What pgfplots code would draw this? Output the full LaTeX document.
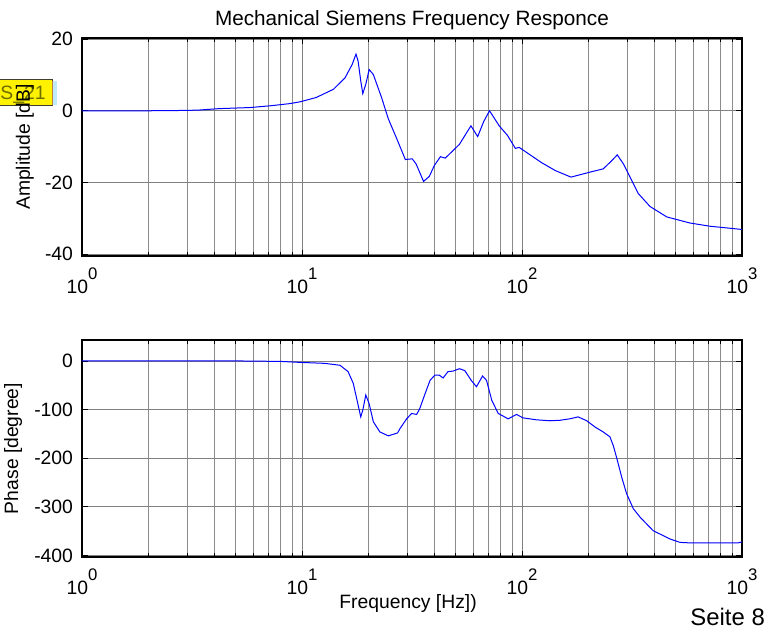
\documentclass[border=0pt]{standalone}
\usepackage{pgfplots}
\pgfplotsset{compat=1.18}
\usepackage{fontspec}
\setmainfont{Liberation Sans}
\newcommand\tp[1]{10\raisebox{0.74em}{\fontsize{8.4}{9}\selectfont #1}}
\pgfplotsset{bode/.style={
  scale only axis, width=330bp,
  xmin=1, xmax=1000,
  xtick={1,10,100,1000}, xticklabels={\tp{0},\tp{1},\tp{2},\tp{3}},
  grid=both,
  major grid style={black!50, line width=0.4bp},
  minor grid style={black!45, line width=0.4bp},
  tick align=inside, tickpos=both,
  major tick length=3bp, minor tick length=2bp,
  every tick/.style={black, line width=0.4bp},
  axis line style={line width=0.8bp},
  tick label style={font=\fontsize{9.7}{11}\selectfont},
  yticklabel style={xshift=-1bp},
  xticklabel style={yshift=-2.3bp},
  label style={font=\fontsize{9.7}{11}\selectfont},
  every axis title shift=0pt,
}}
\begin{document}
\begin{tikzpicture}
\path[use as bounding box] (0bp,0bp) rectangle (385.5bp,313.5bp);
% yellow data-tip box at top left
\draw[fill=yellow, draw=black!70!olive, line width=0.5bp] (-1bp,260.5bp) rectangle (26bp,273.5bp);
\fill[cyan!25] (26.3bp,261.2bp) rectangle (28.6bp,272.8bp);
\draw[brown, line width=0.5bp] (26.4bp,261bp) -- (26.4bp,273bp);
\node[anchor=base west, inner sep=0pt, text={rgb,255:red,110;green,110;blue,0}, font=\fontsize{9.7}{11}\selectfont] at (0bp,263.5bp) {S\_21};

\begin{semilogxaxis}[bode, at={(41bp,185.5bp)}, anchor=south west, height=109bp,
  ymin=-40.5, ymax=20.3, ytick={-40,-20,0,20}, yticklabels={-40,-20,0,20},
  title={Mechanical Siemens Frequency Responce},
  title style={at={(axis description cs:0.5,1.083)}, anchor=center, font=\fontsize{10.4}{12}\selectfont},
  ylabel={Amplitude [dB]},
  ylabel style={at={(axis description cs:-0.0864,0.5)}, anchor=center},
]
\addplot[blue, line width=0.5bp] coordinates {
(1,0) (2,0) (3,0.1) (3.4,0.2) (4.2,0.6) (5.8,0.9) (7.2,1.4) (8.8,2.0) (9.8,2.5)
(11.6,3.7) (13.9,6.0) (15.7,9.2) (16.9,12.9) (17.6,15.8) (18.0,13.8) (18.5,8.3)
(18.9,4.8) (19.5,7.4) (20.2,11.5) (21.1,10.1) (23.0,3.7) (24.7,-2.3) (26.8,-7.4)
(29.5,-13.6) (31.7,-13.4) (33.0,-14.8) (35.7,-19.7) (37.9,-18.3) (40,-15.2)
(42.6,-12.8) (44.8,-13.2) (51.9,-9.4) (58.6,-4.2) (62.9,-7.2) (67,-3) (71.2,0)
(78.8,-4.2) (86,-6.9) (93.3,-10.5) (97,-10.2) (123,-14.5) (142,-16.7) (167,-18.5)
(204,-17.1) (234,-16.2) (256,-13.9) (271,-12.3) (289,-14.8) (310,-18.5)
(338,-23.1) (382,-26.7) (455,-29.6) (580,-31.3) (716,-32.2) (1000,-33.1)
};
\end{semilogxaxis}

\begin{semilogxaxis}[bode, at={(41bp,35bp)}, anchor=south west, height=108.5bp,
  ymin=-403, ymax=43, ytick={-400,-300,-200,-100,0}, yticklabels={-400,-300,-200,-100,0},
  ylabel={Phase [degree]},
  ylabel style={at={(axis description cs:-0.1045,0.5)}, anchor=center},
  xlabel={Frequency [Hz])},
  xlabel style={at={(axis description cs:0.494,-0.212)}, anchor=center},
]
\addplot[blue, line width=0.5bp] coordinates {
(1,0) (5,0) (8,-1) (9.8,-3) (12.7,-5) (14.9,-9) (16.2,-22) (17.1,-46)
(17.8,-81) (18.5,-115) (18.9,-101) (19.5,-70) (20.2,-88) (21.1,-125)
(22.6,-146) (24.7,-154) (27.2,-148) (27.9,-139) (29.9,-119) (31.5,-108)
(33.2,-110) (34.3,-98) (36.3,-67) (38.2,-40) (40.2,-29) (42,-29) (43.8,-35)
(46.1,-22) (48.5,-21) (52,-16) (55,-20) (58.8,-40) (62.1,-53) (66.2,-31)
(69,-40) (72.9,-81) (78,-108) (86.5,-119) (94.5,-110) (101,-117) (116,-121)
(134,-123) (149,-122) (165,-119) (180,-115) (197,-123) (215,-136) (234,-146)
(251,-156) (260,-174) (269,-198) (284,-239) (299,-273) (321,-304) (344,-321)
(395,-349) (471,-366) (523,-373) (580,-374) (960,-374) (1000,-372)
};
\end{semilogxaxis}
\node[anchor=base west, inner sep=0pt, font=\fontsize{12}{14}\selectfont] at (345bp,1bp) {Seite 8};
\end{tikzpicture}
\end{document}
